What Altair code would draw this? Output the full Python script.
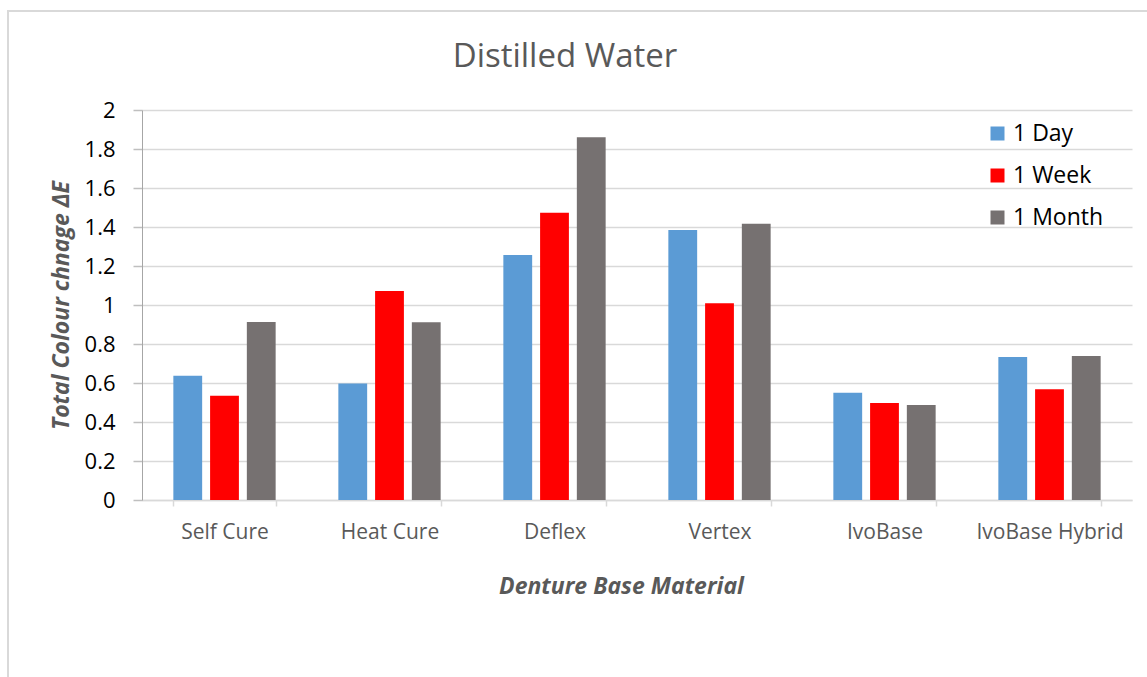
import altair as alt
import pandas as pd

chart_title = "Distilled Water"
materials = ["Self Cure", "Heat Cure", "Deflex", "Vertex", "IvoBase", "IvoBase Hybrid"]
periods = ["1 Day", "1 Week", "1 Month"]
day_1 = [0.637, 0.598, 1.256, 1.385, 0.550, 0.733]
week_1 = [0.535, 1.072, 1.473, 1.009, 0.497, 0.568]
month_1 = [0.913, 0.911, 1.860, 1.417, 0.487, 0.738]
colors = ["#5B9BD5", "#FF0000", "#767171"]
y_ticks = [0, 0.2, 0.4, 0.6, 0.8, 1.0, 1.2, 1.4, 1.6, 1.8, 2.0]

rows = []
for series, vals in zip(periods, [day_1, week_1, month_1]):
    for m, v in zip(materials, vals):
        rows.append({"Material": m, "Period": series, "Value": v})
df = pd.DataFrame(rows)

FONT = "Open Sans"

frame = alt.Chart(alt.Data(values=[{"k": 1}])).mark_rect(
    fillOpacity=0, stroke="#d9d9d9", strokeWidth=2
).encode(
    x=alt.value(-134), x2=alt.value(1020), y=alt.value(-99), y2=alt.value(580)
)

title_text = alt.Chart(alt.Data(values=[{"t": chart_title}])).mark_text(
    font=FONT, fontSize=33, color="#595959", align="center", baseline="alphabetic"
).encode(
    x=alt.value(423), y=alt.value(-43), text="t:N"
)

bars = alt.Chart(df).mark_bar().encode(
    x=alt.X(
        "Material:N", sort=materials,
        scale=alt.Scale(paddingInner=0.38, paddingOuter=0.19),
        axis=alt.Axis(
            title="Denture Base Material", labelAngle=0, tickBand="extent",
            domainColor="#d9d9d9", domainWidth=1.5, tickColor="#d9d9d9",
            tickWidth=1.5, tickSize=6, labelFontSize=21, labelColor="#595959",
            labelFont=FONT, labelPadding=15, grid=False,
            titleFont=FONT, titleFontSize=23, titleFontWeight="bold",
            titleFontStyle="italic", titleColor="#595959",
            titleX=479, titleY=93, titleBaseline="alphabetic", titleAlign="center",
        ),
    ),
    xOffset=alt.XOffset("Period:N", sort=periods,
                        scale=alt.Scale(paddingInner=0.216, paddingOuter=0)),
    y=alt.Y(
        "Value:Q", scale=alt.Scale(domain=[0, 2], nice=False),
        axis=alt.Axis(
            values=y_ticks, format="~g", title="Total Colour chnage ΔE",
            domainColor="#a6a6a6", domainWidth=1, tickColor="#bfbfbf",
            tickSize=9, tickWidth=1.5, gridColor="#d9d9d9", gridWidth=1.5,
            labelFont=FONT, labelFontSize=22, labelColor="#000000", labelPadding=18,
            titleFont=FONT, titleFontSize=23, titleFontWeight="bold",
            titleFontStyle="italic", titleColor="#595959",
            titleX=-74, titleY=195, titleAngle=270, titleBaseline="alphabetic",
            titleAlign="center",
        ),
    ),
    color=alt.Color(
        "Period:N", sort=periods,
        scale=alt.Scale(domain=periods, range=colors),
        legend=alt.Legend(
            title=None, orient="none", legendX=844, legendY=12,
            symbolType="square", symbolSize=196, symbolStrokeWidth=0,
            symbolOpacity=1, labelFont=FONT, labelFontSize=23,
            labelColor="#000000", rowPadding=18, labelOffset=4,
        ),
    ),
)

chart = alt.layer(frame, title_text, bars).properties(
    width=990, height=390,
    autosize="none",
    padding={"left": 142, "top": 110, "right": 15, "bottom": 177},
).configure_view(strokeWidth=0)

chart.save("out.html", embed_options={"renderer": "svg", "actions": False})
